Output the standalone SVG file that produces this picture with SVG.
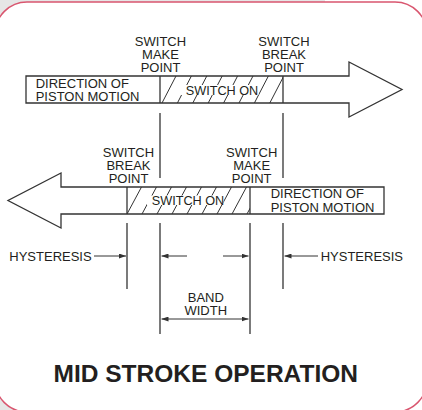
<svg xmlns="http://www.w3.org/2000/svg" width="422" height="410" viewBox="0 0 422 410">
<defs>
<style>
.t{font-family:"Liberation Sans",Arial,Helvetica,sans-serif;font-size:13px;fill:#231f20}
.m{text-anchor:middle}
.ln{stroke:#333;stroke-width:1.3;fill:none}
.dim{stroke:#333;stroke-width:1;fill:none}
.box{fill:#fff;stroke:#333;stroke-width:1.3;stroke-linejoin:miter}
.hatch{stroke:#333;stroke-width:1;fill:none}
.title{font-family:"Liberation Sans",Arial,Helvetica,sans-serif;font-size:24.5px;font-weight:bold;fill:#231f20;text-anchor:middle}
</style>
<marker id="ah" viewBox="0 0 7 5" refX="7" refY="2.5" markerWidth="7" markerHeight="5" markerUnits="userSpaceOnUse" orient="auto-start-reverse">
<path d="M0,0 L7,2.5 L0,5 Z" fill="#333"/>
</marker>
<clipPath id="clipTop"><rect x="160" y="76" width="123" height="27"/></clipPath>
<clipPath id="clipBot"><rect x="127" y="187" width="123" height="27"/></clipPath>
</defs>

<g id="frame">
<rect x="0" y="0" width="325" height="410" fill="#e6e6e6"/>
<rect x="325" y="0" width="97" height="410" fill="#ffffff"/>
<rect x="-5" y="2" width="432" height="410" rx="32" ry="32" fill="#ffffff" stroke="#d9566f" stroke-width="1.5"/>
</g>

<g id="arrow-top">
<path class="box" d="M26,76 L349,76 L349,62 L402,89.5 L349,117 L349,103 L26,103 Z"/>
<g clip-path="url(#clipTop)">
<path class="hatch" d="M162,103 L176,76 M177.4,103 L191.4,76 M192.8,103 L206.8,76 M208.2,103 L222.2,76 M223.6,103 L237.6,76 M239,103 L253,76 M254.4,103 L268.4,76 M269.8,103 L283.8,76"/>
</g>
<rect x="181" y="85" width="77.5" height="10" fill="#fff"/>
<line class="ln" x1="160" y1="76" x2="160" y2="103"/>
<line class="ln" x1="283" y1="76" x2="283" y2="103"/>
<text class="t" x="35.7" y="87.5">DIRECTION OF</text>
<text class="t" x="35.7" y="101">PISTON MOTION</text>
<text class="t" x="185.7" y="95" style="font-size:12.7px">SWITCH ON</text>
</g>

<g id="arrow-bottom">
<path class="box" d="M384,187 L61,187 L61,173 L8,200.5 L61,228 L61,214 L384,214 Z"/>
<g clip-path="url(#clipBot)">
<path class="hatch" d="M127,214 L141.5,187 M142,214 L156.5,187 M157,214 L171.5,187 M172,214 L186.5,187 M187,214 L201.5,187 M202,214 L216.5,187 M217,214 L231.5,187 M232,214 L246.5,187 M247,214 L261.5,187"/>
</g>
<rect x="147" y="195.5" width="76.5" height="9.5" fill="#fff"/>
<line class="ln" x1="127" y1="187" x2="127" y2="214"/>
<line class="ln" x1="250" y1="187" x2="250" y2="214"/>
<text class="t" x="151.7" y="205" style="font-size:12.7px">SWITCH ON</text>
<text class="t" x="270.7" y="198">DIRECTION OF</text>
<text class="t" x="270.7" y="211.5">PISTON MOTION</text>
</g>

<g id="label-top-make">
<text class="t m" x="160.5" y="46">SWITCH</text>
<text class="t m" x="160.5" y="59">MAKE</text>
<text class="t m" x="160.5" y="72">POINT</text>
</g>
<g id="label-top-break">
<text class="t m" x="284" y="46">SWITCH</text>
<text class="t m" x="284" y="59">BREAK</text>
<text class="t m" x="284" y="72">POINT</text>
</g>
<g id="label-bottom-break">
<text class="t m" x="128.5" y="157">SWITCH</text>
<text class="t m" x="128.5" y="170">BREAK</text>
<text class="t m" x="128.5" y="183">POINT</text>
</g>
<g id="label-bottom-make">
<text class="t m" x="251.7" y="157">SWITCH</text>
<text class="t m" x="251.7" y="170">MAKE</text>
<text class="t m" x="251.7" y="183">POINT</text>
</g>

<g id="hysteresis-left">
<text class="t" x="9.3" y="260.7">HYSTERESIS</text>
</g>
<g id="hysteresis-right">
<text class="t" x="320.7" y="260.7">HYSTERESIS</text>
</g>
<g id="band-width">
<text class="t m" x="205.8" y="301.7">BAND</text>
<text class="t m" x="205.8" y="315">WIDTH</text>
</g>

<g id="connectors">
<line class="ln" x1="160" y1="113" x2="160" y2="178"/>
<line class="ln" x1="283" y1="113" x2="283" y2="178"/>
<line class="ln" x1="160" y1="223" x2="160" y2="334"/>
<line class="ln" x1="283" y1="223" x2="283" y2="289"/>
<line class="ln" x1="127" y1="223" x2="127" y2="289"/>
<line class="ln" x1="250" y1="223" x2="250" y2="334"/>
<line class="dim" x1="94" y1="256" x2="126" y2="256" marker-end="url(#ah)"/>
<line class="dim" x1="187" y1="256" x2="161.5" y2="256" marker-end="url(#ah)"/>
<line class="dim" x1="223" y1="256" x2="248.5" y2="256" marker-end="url(#ah)"/>
<line class="dim" x1="318" y1="256" x2="284.5" y2="256" marker-end="url(#ah)"/>
<line class="dim" x1="161.5" y1="319" x2="248.5" y2="319" marker-start="url(#ah)" marker-end="url(#ah)"/>
</g>

<g id="title">
<text class="title" x="205.8" y="382.3">MID STROKE OPERATION</text>
</g>
</svg>
